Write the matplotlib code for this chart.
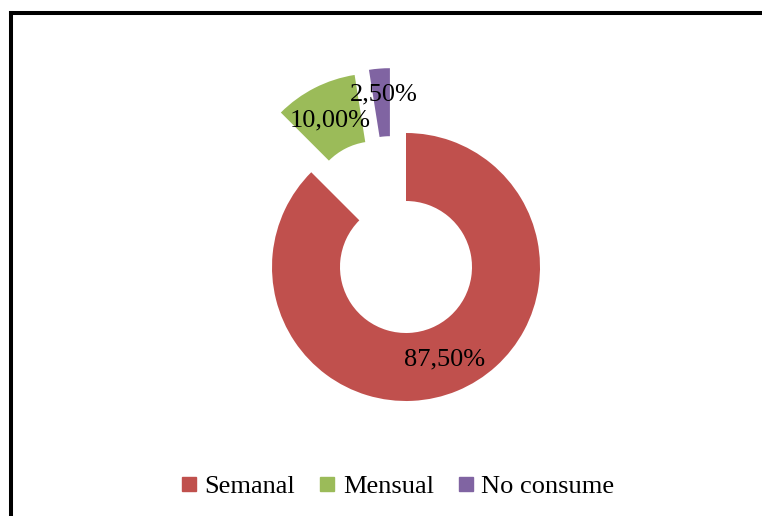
import matplotlib
matplotlib.use("Agg")
import matplotlib.pyplot as plt
from matplotlib.lines import Line2D

categories = ["Semanal", "Mensual", "No consume"]
values = [87.5, 10.0, 2.5]
labels_txt = ["87,50%", "10,00%", "2,50%"]
colors = ["#C0504D", "#9BBB59", "#8064A2"]
explode = [0, 67, 65]

plt.rcParams['font.family'] = ['Liberation Serif', 'DejaVu Serif']

fig = plt.figure(figsize=(7.62, 5.16), dpi=100)
ax = fig.add_axes([0, 0, 1, 1])

cx, cy, R = 406, 249, 134
wedges, _, autotexts = ax.pie(values, colors=colors, explode=explode, startangle=90,
                              counterclock=False, center=(cx, cy), radius=R,
                              wedgeprops=dict(width=68, linewidth=0),
                              autopct=lambda p: "", pctdistance=0.75, frame=True)
ax.set_xlim(0, 762)
ax.set_ylim(0, 516)
ax.axis('off')

# Excel-style offset of the small exploded slice
wx, wy = wedges[2].center
wedges[2].set_center((wx - 11, wy))

for t, s in zip(autotexts, labels_txt):
    t.set_text(s)
    t.set_fontsize(19)
    t.set_color('black')
x, y = autotexts[2].get_position()
autotexts[2].set_position((x - 9, y + 8))
x, y = autotexts[1].get_position()
autotexts[1].set_position((x, y - 3))

handles = [Line2D([], [], marker='s', linestyle='', markersize=9.5, color=c) for c in colors]
fig.legend(handles, categories, loc='center', bbox_to_anchor=(0.522, 0.058), ncol=3,
           frameon=False, fontsize=19, handlelength=0.6, handletextpad=0.3,
           columnspacing=0.9)

lw = 2.9
fig.add_artist(Line2D([11 / 762, 11 / 762], [0, 1 - 12.5 / 516], color='black', lw=lw,
                      transform=fig.transFigure, solid_capstyle='projecting'))
fig.add_artist(Line2D([11 / 762, 1], [1 - 12.5 / 516, 1 - 12.5 / 516], color='black', lw=lw,
                      transform=fig.transFigure, solid_capstyle='projecting'))

fig.savefig("out.png", dpi=100)
